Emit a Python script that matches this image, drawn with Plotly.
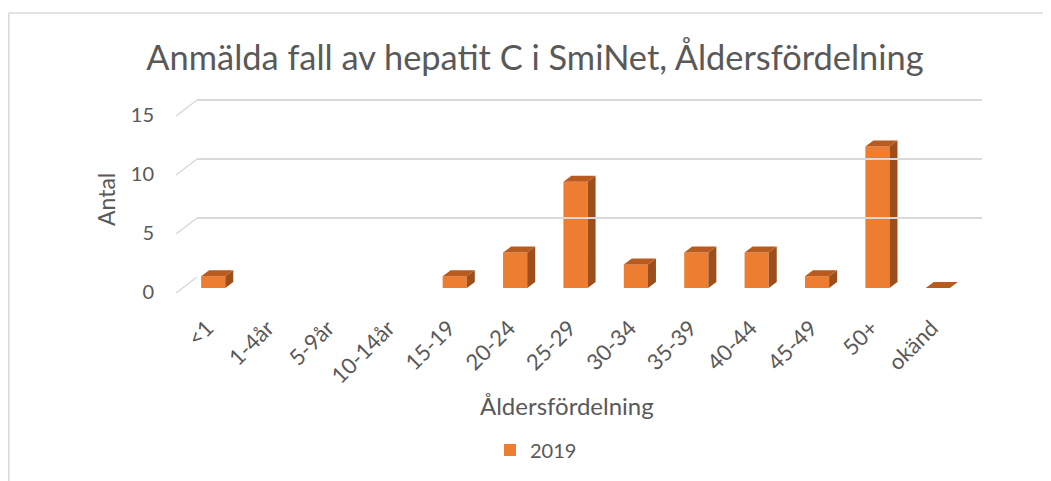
import plotly.graph_objects as go

categories = ["<1", "1-4år", "5-9år", "10-14år", "15-19", "20-24", "25-29",
              "30-34", "35-39", "40-44", "45-49", "50+", "okänd"]
values_2019 = [1, None, None, None, 1, 3, 9, 2, 3, 3, 1, 12, 0]
y_ticks = [0, 5, 10, 15]
series_name = "2019"
title_text = "Anmälda fall av hepatit C i SmiNet, Åldersfördelning"
x_title = "Åldersfördelning"
y_title = "Antal"

# page body has an 8px default margin; compensate so the screenshot matches
OFF = 8
W, H = 1051 - OFF, 481 - OFF
FONT = "Lato"
TXT = "#595959"
GRID = "#D9D9D9"
FRONT = "#ED7D31"
TOP = "#B95B1F"
SIDE = "#9C4F1B"


def fx(px):
    return (px - OFF) / W


def fy(py):
    return 1 - (py - OFF) / H


# geometry (screen pixels)
X_L, X_R = 183, 968          # front category band
Y0, PPU = 288, 11.8          # baseline pixel, pixels per unit
YMAX = 16
Y_TOP = Y0 - PPU * YMAX
BACK_DX, BACK_DY = 14, 11    # back wall offset
BAR_W = 0.4
cat_px = (X_R - X_L) / len(categories)
DX = 8 / cat_px              # bar depth in data units
DY = 6 / PPU

fig = go.Figure()

# invisible trace on back-wall axes so gridlines render
fig.add_trace(go.Scatter(x=[0], y=[0], xaxis="x2", yaxis="y2", mode="markers",
                         marker=dict(opacity=0), showlegend=False, hoverinfo="skip"))

xs = list(range(len(categories)))
fig.add_trace(go.Bar(x=xs, y=values_2019,
                     width=BAR_W, marker=dict(color=FRONT, line=dict(width=0)),
                     name=series_name, showlegend=True))

# 3D faces derived from the data values
top_x, top_y, side_x, side_y = [], [], [], []
for i, v in enumerate(values_2019):
    if v is None:
        continue
    l, r = i - BAR_W / 2, i + BAR_W / 2
    top_x += [l, r, r + DX, l + DX, l, None]
    top_y += [v, v, v + DY, v + DY, v, None]
    if v > 0:
        side_x += [r, r, r + DX, r + DX, r, None]
        side_y += [0, v, v + DY, DY, 0, None]

fig.add_trace(go.Scatter(x=side_x, y=side_y, fill="toself", fillcolor=SIDE,
                         mode="lines", line=dict(width=0, color=SIDE),
                         showlegend=False, hoverinfo="skip"))
fig.add_trace(go.Scatter(x=top_x, y=top_y, fill="toself", fillcolor=TOP,
                         mode="lines", line=dict(width=0, color=TOP),
                         showlegend=False, hoverinfo="skip"))

shapes = []
# side-wall diagonals at the gridline values
for t in y_ticks:
    yf = Y0 - PPU * t
    shapes.append(dict(type="line", xref="paper", yref="paper",
                       x0=fx(176), y0=fy(yf + 5), x1=fx(197), y1=fy(yf - BACK_DY),
                       line=dict(color=GRID, width=1.5)))
# chart border
shapes.append(dict(type="line", xref="paper", yref="paper", x0=fx(8.8), y0=fy(13),
                   x1=1.0, y1=fy(13), line=dict(color=GRID, width=1.5)))
shapes.append(dict(type="line", xref="paper", yref="paper", x0=fx(8.8), y0=fy(13),
                   x1=fx(8.8), y1=0.0, line=dict(color=GRID, width=1.5)))

fig.update_layout(
    width=W, height=H, autosize=False,
    margin=dict(l=0, r=0, t=0, b=0, autoexpand=False),
    paper_bgcolor="white", plot_bgcolor="rgba(0,0,0,0)",
    font=dict(family=FONT, color=TXT),
    title=dict(text=title_text, x=fx(535), y=fy(58), xanchor="center", yanchor="middle",
               xref="paper", yref="paper", font=dict(size=34.4, color=TXT, family=FONT)),
    xaxis=dict(domain=[fx(X_L), fx(X_R)], range=[-0.5, len(categories) - 0.5],
               tickvals=xs, ticktext=categories, tickangle=-45, showgrid=False,
               zeroline=False, showline=False, ticks="", ticklabelstandoff=22,
               ticklabelshift=-6,
               tickfont=dict(size=22, color=TXT, family=FONT)),
    yaxis=dict(domain=[fy(Y0), fy(Y_TOP)], range=[0, YMAX], tickvals=y_ticks,
               showgrid=False, zeroline=False, showline=False, ticks="",
               ticklabelstandoff=28, ticklabelshift=4,
               tickfont=dict(size=20, color=TXT, family=FONT)),
    xaxis2=dict(domain=[fx(X_L + BACK_DX), fx(X_R + BACK_DX)], range=[-0.5, 12.5],
                showticklabels=False, showgrid=False, zeroline=False, anchor="y2"),
    yaxis2=dict(domain=[fy(Y0 - BACK_DY), fy(Y_TOP - BACK_DY)], range=[0, YMAX],
                tickvals=y_ticks, showticklabels=False, showgrid=True,
                gridcolor=GRID, gridwidth=2, zeroline=False, anchor="x2"),
    showlegend=True,
    legend=dict(x=fx(536), y=fy(450), xanchor="center", yanchor="middle",
                orientation="h", font=dict(size=20, color=TXT, family=FONT),
                itemwidth=30),
    shapes=shapes,
    annotations=[
        dict(text=x_title, x=fx(567), y=fy(405), xref="paper", yref="paper",
             showarrow=False, font=dict(size=24, color=TXT, family=FONT),
             xanchor="center", yanchor="middle"),
        dict(text=y_title, x=fx(106), y=fy(200), xref="paper", yref="paper",
             showarrow=False, textangle=-90, font=dict(size=23, color=TXT, family=FONT),
             xanchor="center", yanchor="middle"),
    ],
)

fig.write_html("out.html")
